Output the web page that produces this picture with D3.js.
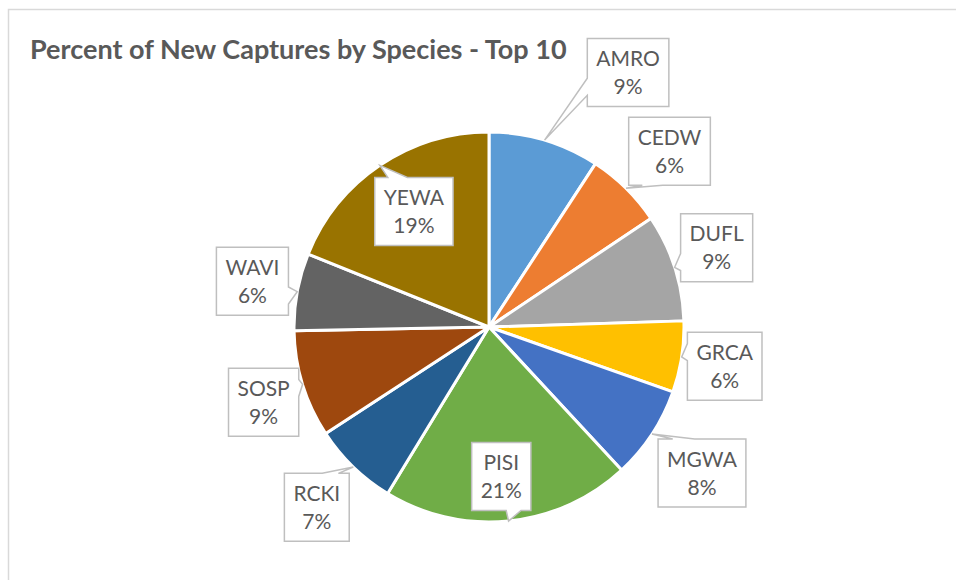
<!DOCTYPE html>
<html>
<head>
<meta charset="utf-8">
<script src="https://cdn.jsdelivr.net/npm/d3@7"></script>
<style>
	body { margin: 0; background: #fff; }
	.title { font-family: Lato, "Open Sans", sans-serif; font-weight: bold; fill: #595959; }
	.labelText { font-family: Lato, "Open Sans", sans-serif; fill: #595959; }
</style>
</head>
<body>
<div id="chart"></div>
<script>
	///////////////////////////////////////////////////////////////////////////
	//////////////////////////////// Data ////////////////////////////////////
	///////////////////////////////////////////////////////////////////////////

	var species = ["AMRO", "CEDW", "DUFL", "GRCA", "MGWA", "PISI", "RCKI", "SOSP", "WAVI", "YEWA"];
	var shares = [9.2, 6.4, 8.9, 5.9, 7.7, 20.6, 7.1, 8.9, 6.4, 18.9];
	var colors = ["#5B9BD5", "#ED7D31", "#A5A5A5", "#FFC000", "#4472C4",
		"#70AD47", "#255E91", "#9E480E", "#636363", "#997300"];
	var titleText = "Percent of New Captures by Species - Top 10";

	//where each label box sits relative to the tip of its callout
	var labelOffsets = [[83.5, -67.5], [43.5, -37], [42, -19.5], [43, 9.4], [50, 39],
		[-7.3, -44.5], [-36.5, 40.3], [-39, 17.8], [-44.8, -10.3], [34, 46]];

	var width = 956, height = 580;
	var cx = 489, cy = 327, radius = 195;

	var svg = d3.select("#chart")
		.append("svg")
			.attr("width", width)
			.attr("height", height);

	//chart area border (only top and left visible)
	svg.append("rect")
		.attr("x", 8.5)
		.attr("y", 9.5)
		.attr("width", width + 20)
		.attr("height", height + 20)
		.style("fill", "white")
		.style("stroke", "#D9D9D9")
		.style("stroke-width", 1.5);

	//title, fitted to the reference width
	var title = svg.append("text")
		.attr("class", "title")
		.attr("x", 30)
		.attr("y", 59)
		.style("font-size", "24px")
		.text(titleText);
	var tw = title.node().getComputedTextLength();
	title.style("font-size", (24 * 537 / tw) + "px");

	///////////////////////////////////////////////////////////////////////////
	//////////////////////////////// Pie /////////////////////////////////////
	///////////////////////////////////////////////////////////////////////////

	var data = species.map(function(s, i) { return { name: s, value: shares[i], color: colors[i] }; });
	var total = d3.sum(shares);

	var pie = d3.pie()
		.sort(null)
		.value(function(d) { return d.value; });

	var arc = d3.arc()
		.innerRadius(0)
		.outerRadius(radius);

	var g = svg.append("g")
		.attr("transform", "translate(" + cx + "," + cy + ")");

	var arcs = pie(data);

	g.selectAll(".slice")
		.data(arcs)
		.enter().append("path")
		.attr("class", "slice")
		.attr("d", arc)
		.style("fill", function(d) { return d.data.color; })
		.style("stroke", "white")
		.style("stroke-width", 3)
		.style("stroke-linejoin", "round");

	///////////////////////////////////////////////////////////////////////////
	///////////////////////////// Callout labels /////////////////////////////
	///////////////////////////////////////////////////////////////////////////

	//rectangle callout with a wedge pointing at (px,py), office style
	function calloutPath(l, t, w, h, px, py) {
		var r = l + w, b = t + h;
		var dx = px - (l + w / 2), dy = py - (t + h / 2);
		var dz = Math.abs(dy) - Math.abs(dx * h / w);
		var x1 = l + w * (dx > 0 ? 7 : 2) / 12, x2 = l + w * (dx > 0 ? 10 : 5) / 12;
		var y1 = t + h * (dy > 0 ? 7 : 2) / 12, y2 = t + h * (dy > 0 ? 10 : 5) / 12;
		var p = d3.path();
		p.moveTo(l, t);
		if (dz > 0 && dy < 0) { p.lineTo(x1, t); p.lineTo(px, py); p.lineTo(x2, t); }
		p.lineTo(r, t);
		if (dz <= 0 && dx > 0) { p.lineTo(r, y1); p.lineTo(px, py); p.lineTo(r, y2); }
		p.lineTo(r, b);
		if (dz > 0 && dy > 0) { p.lineTo(x2, b); p.lineTo(px, py); p.lineTo(x1, b); }
		p.lineTo(l, b);
		if (dz <= 0 && dx < 0) { p.lineTo(l, y2); p.lineTo(px, py); p.lineTo(l, y1); }
		p.closePath();
		return p.toString();
	}

	var fontSize = 21, boxH = 68, pad = 9;

	arcs.forEach(function(d, i) {
		var mid = (d.startAngle + d.endAngle) / 2;
		var tipX = cx + radius * Math.sin(mid);
		var tipY = cy - radius * Math.cos(mid);
		var bx = tipX + labelOffsets[i][0];
		var by = tipY + labelOffsets[i][1];
		var pct = Math.round(d.data.value / total * 100) + "%";

		var lab = svg.append("g").attr("class", "label");
		var box = lab.append("path");

		var t1 = lab.append("text")
			.attr("class", "labelText")
			.attr("x", bx)
			.attr("y", by - 14 + 7.5)
			.style("font-size", fontSize + "px")
			.style("text-anchor", "middle")
			.text(d.data.name);
		var t2 = lab.append("text")
			.attr("class", "labelText")
			.attr("x", bx)
			.attr("y", by + 14 + 7.5)
			.style("font-size", fontSize + "px")
			.style("text-anchor", "middle")
			.text(pct);

		var boxW = Math.max(t1.node().getComputedTextLength(), t2.node().getComputedTextLength()) + 2 * pad;

		box.attr("d", calloutPath(bx - boxW / 2, by - boxH / 2, boxW, boxH, tipX, tipY))
			.style("fill", "white")
			.style("stroke", "#BFBFBF")
			.style("stroke-width", 1.5)
			.style("stroke-linejoin", "miter");
	});
</script>
</body>
</html>
